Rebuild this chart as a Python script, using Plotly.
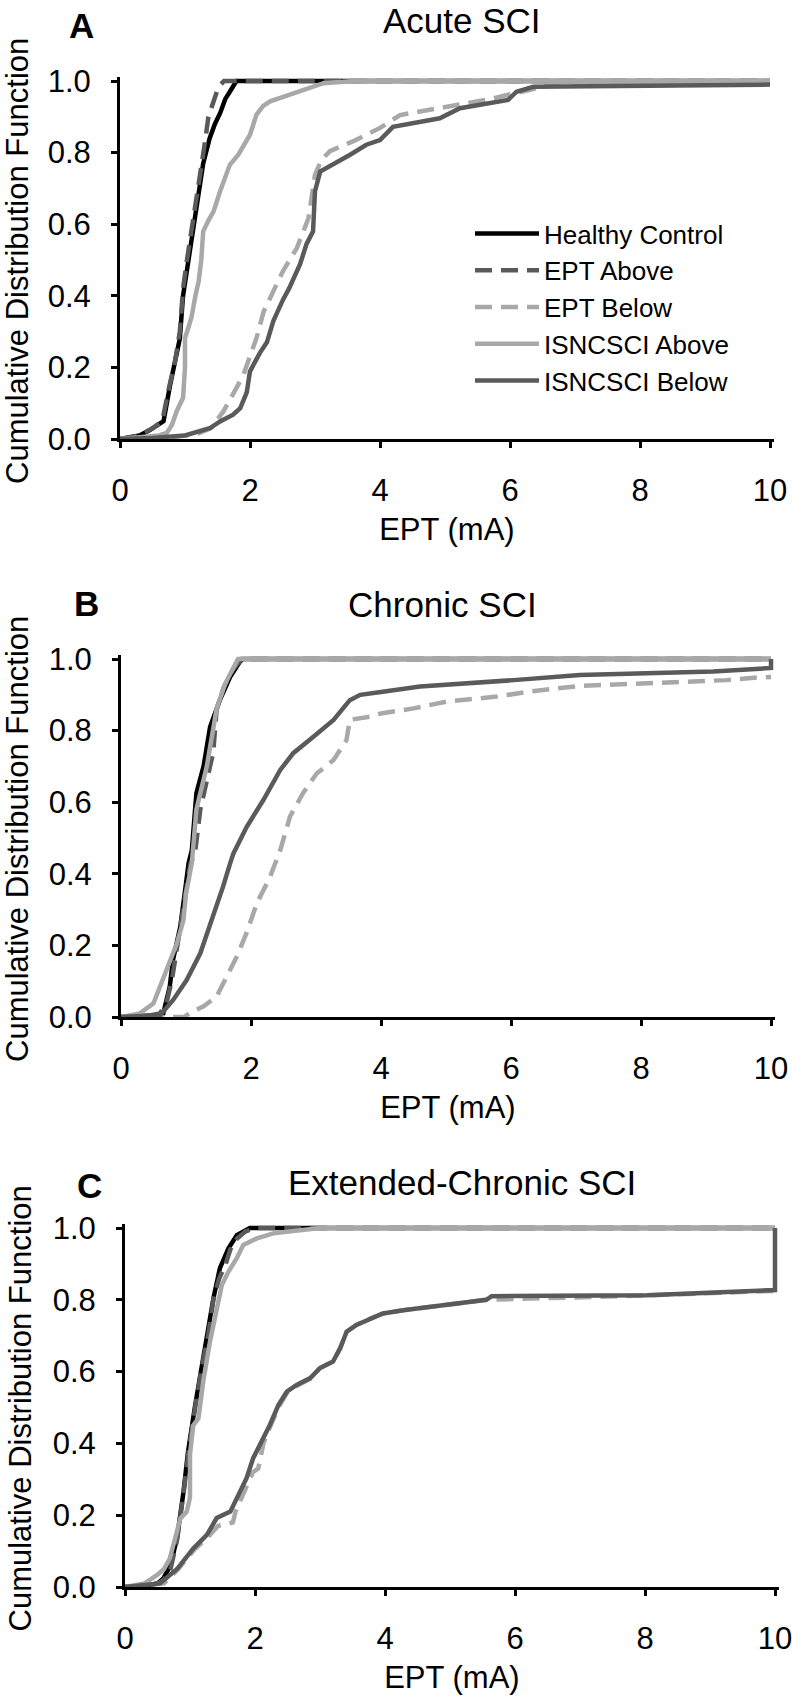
import plotly.graph_objects as go

# ---------------- data ----------------
SERIES = ["Healthy Control", "EPT Above", "EPT Below", "ISNCSCI Above", "ISNCSCI Below"]
PANEL_TITLES = ["Acute SCI", "Chronic SCI", "Extended-Chronic SCI"]
PANEL_LETTERS = ["A", "B", "C"]
X_TITLE = "EPT (mA)"
Y_TITLE = "Cumulative Distribution Function"
X_TICKS = [0, 2, 4, 6, 8, 10]
Y_TICKS = [0.0, 0.2, 0.4, 0.6, 0.8, 1.0]

# Panel A - Acute SCI
A_HC_X = [0, 0.3, 0.46, 0.6, 0.67, 0.77, 0.85, 0.92, 0.97, 1.02, 1.08, 1.13, 1.18, 1.23, 1.28, 1.38, 1.46, 1.54, 1.62, 1.69, 1.79, 10]
A_HC_Y = [0, 0.01, 0.025, 0.04, 0.05, 0.15, 0.22, 0.28, 0.40, 0.46, 0.52, 0.58, 0.64, 0.70, 0.77, 0.84, 0.88, 0.91, 0.95, 0.97, 1.0, 1.0]
A_EA_X = [0, 0.3, 0.5, 0.65, 0.75, 0.85, 0.92, 0.97, 1.03, 1.10, 1.17, 1.24, 1.30, 1.36, 1.42, 1.49, 1.55, 1.6, 10]
A_EA_Y = [0, 0.01, 0.03, 0.05, 0.14, 0.22, 0.30, 0.42, 0.50, 0.58, 0.66, 0.74, 0.82, 0.90, 0.93, 0.97, 0.99, 1.0, 1.0]
A_EB_X = [0, 0.8, 1.2, 1.4, 1.59, 1.7, 1.79, 1.9, 2.0, 2.1, 2.21, 2.41, 2.51, 2.72, 2.9, 3.0, 3.1, 3.23, 3.59, 4.0, 4.31, 5.18, 5.7, 6.3, 6.6, 10]
A_EB_Y = [0, 0.005, 0.015, 0.03, 0.077, 0.11, 0.142, 0.18, 0.235, 0.282, 0.356, 0.43, 0.47, 0.533, 0.617, 0.738, 0.78, 0.804, 0.832, 0.869, 0.905, 0.933, 0.95, 0.975, 0.988, 0.995]
A_IA_X = [0, 0.4, 0.6, 0.72, 0.8, 0.87, 0.97, 1.0, 1.0, 1.05, 1.10, 1.16, 1.21, 1.25, 1.28, 1.36, 1.44, 1.54, 1.62, 1.69, 1.82, 2.0, 2.10, 2.2, 2.31, 2.62, 2.92, 3.13, 3.6, 10]
A_IA_Y = [0, 0.005, 0.01, 0.017, 0.04, 0.077, 0.115, 0.2, 0.282, 0.31, 0.34, 0.40, 0.44, 0.50, 0.58, 0.61, 0.636, 0.692, 0.73, 0.766, 0.794, 0.85, 0.906, 0.93, 0.943, 0.962, 0.98, 0.994, 1.0, 1.0]
A_IB_X = [0, 0.5, 1.0, 1.38, 1.54, 1.74, 1.85, 1.95, 2.0, 2.15, 2.26, 2.36, 2.51, 2.6, 2.77, 2.87, 2.97, 3.0, 3.08, 3.28, 3.54, 3.79, 4.0, 4.2, 4.92, 5.23, 5.97, 6.1, 6.36, 10]
A_IB_Y = [0, 0.003, 0.01, 0.03, 0.049, 0.068, 0.086, 0.13, 0.189, 0.24, 0.27, 0.33, 0.39, 0.42, 0.488, 0.545, 0.58, 0.692, 0.747, 0.766, 0.794, 0.822, 0.835, 0.872, 0.896, 0.924, 0.947, 0.97, 0.984, 0.99]

# Panel B - Chronic SCI
B_HC_X = [0, 0.4, 0.55, 0.65, 0.75, 0.80, 0.91, 0.98, 1.04, 1.09, 1.16, 1.27, 1.37, 1.52, 1.68, 1.83, 1.87, 10]
B_HC_Y = [0, 0.002, 0.005, 0.01, 0.085, 0.16, 0.25, 0.345, 0.43, 0.466, 0.625, 0.70, 0.81, 0.885, 0.95, 0.993, 1.0, 1.0]
B_EA_X = [0, 0.4, 0.6, 0.7, 0.78, 0.85, 0.93, 1.0, 1.07, 1.14, 1.22, 1.32, 1.42, 1.47, 1.58, 1.72, 1.85, 10]
B_EA_Y = [0, 0.003, 0.01, 0.04, 0.10, 0.18, 0.27, 0.35, 0.43, 0.46, 0.58, 0.66, 0.74, 0.858, 0.92, 0.97, 1.0, 1.0]
B_EB_X = [0, 0.97, 1.05, 1.27, 1.47, 1.62, 1.78, 1.93, 2.09, 2.29, 2.45, 2.6, 2.8, 3.01, 3.27, 3.47, 3.52, 3.83, 4.0, 4.5, 5.01, 5.78, 6.29, 7.06, 8.6, 9.32, 9.78, 10]
B_EB_Y = [0, 0.0, 0.01, 0.03, 0.057, 0.11, 0.168, 0.234, 0.318, 0.39, 0.466, 0.56, 0.625, 0.68, 0.718, 0.774, 0.83, 0.839, 0.848, 0.862, 0.881, 0.895, 0.909, 0.925, 0.934, 0.941, 0.948, 0.95]
B_IA_X = [0, 0.29, 0.5, 0.6, 0.7, 0.86, 0.96, 1.0, 1.09, 1.16, 1.32, 1.47, 1.6, 1.73, 1.8, 10]
B_IA_Y = [0, 0.01, 0.038, 0.085, 0.13, 0.206, 0.27, 0.345, 0.43, 0.58, 0.70, 0.86, 0.93, 0.98, 1.0, 1.0]
B_IB_X = [0, 0.6, 0.80, 1.01, 1.22, 1.42, 1.57, 1.68, 1.73, 1.93, 2.19, 2.45, 2.65, 2.96, 3.27, 3.52, 3.68, 4.0, 4.6, 6.04, 7.06, 9.11, 10, 10]
B_IB_Y = [0, 0.005, 0.047, 0.103, 0.178, 0.28, 0.364, 0.43, 0.457, 0.53, 0.606, 0.69, 0.737, 0.783, 0.83, 0.885, 0.90, 0.908, 0.923, 0.941, 0.955, 0.965, 0.975, 1.0]

# Panel C - Extended-Chronic SCI
C_HC_X = [0, 0.3, 0.5, 0.59, 0.7, 0.80, 0.90, 0.97, 1.08, 1.18, 1.28, 1.36, 1.46, 1.59, 1.72, 1.87, 1.92, 10]
C_HC_Y = [0, 0.003, 0.01, 0.024, 0.06, 0.136, 0.265, 0.377, 0.507, 0.618, 0.711, 0.804, 0.888, 0.943, 0.98, 0.997, 1.0, 1.0]
C_EA_X = [0, 0.3, 0.5, 0.6, 0.7, 0.8, 0.9, 0.98, 1.08, 1.18, 1.28, 1.36, 1.45, 1.55, 1.62, 1.72, 1.85, 2.0, 10]
C_EA_Y = [0, 0.003, 0.01, 0.02, 0.05, 0.13, 0.26, 0.38, 0.50, 0.61, 0.70, 0.80, 0.86, 0.90, 0.94, 0.97, 0.99, 1.0, 1.0]
C_EB_X = [0, 0.6, 0.82, 1.07, 1.28, 1.43, 1.66, 1.70, 1.87, 1.97, 2.05, 2.13, 2.23, 2.36, 2.49, 2.64, 2.85, 3.0, 3.2, 3.31, 3.41, 3.56, 3.77, 3.97, 4.28, 4.95, 5.56, 8.0, 10]
C_EB_Y = [0, 0.01, 0.05, 0.105, 0.14, 0.17, 0.18, 0.21, 0.28, 0.32, 0.33, 0.40, 0.445, 0.50, 0.54, 0.56, 0.58, 0.61, 0.628, 0.665, 0.711, 0.73, 0.748, 0.762, 0.771, 0.786, 0.80, 0.812, 0.825]
C_IA_X = [0, 0.3, 0.49, 0.6, 0.69, 0.78, 0.85, 0.95, 1.0, 1.0, 1.05, 1.13, 1.21, 1.31, 1.41, 1.49, 1.59, 1.72, 1.82, 2.03, 2.28, 2.69, 3.0, 10]
C_IA_Y = [0, 0.01, 0.033, 0.05, 0.08, 0.14, 0.19, 0.21, 0.25, 0.37, 0.45, 0.47, 0.58, 0.686, 0.77, 0.841, 0.878, 0.916, 0.953, 0.971, 0.985, 0.994, 1.0, 1.0]
C_IB_X = [0, 0.54, 0.80, 1.05, 1.26, 1.41, 1.62, 1.72, 1.87, 1.97, 2.13, 2.23, 2.36, 2.49, 2.64, 2.85, 3.0, 3.2, 3.31, 3.41, 3.56, 3.77, 3.97, 4.28, 4.95, 5.0, 5.56, 5.64, 8.03, 10, 10]
C_IB_Y = [0, 0.01, 0.05, 0.107, 0.145, 0.192, 0.21, 0.247, 0.303, 0.358, 0.414, 0.452, 0.507, 0.544, 0.563, 0.582, 0.61, 0.628, 0.665, 0.711, 0.73, 0.748, 0.762, 0.771, 0.786, 0.79, 0.80, 0.81, 0.813, 0.827, 1.0]

PANELS = [
    [(A_HC_X, A_HC_Y), (A_EA_X, A_EA_Y), (A_EB_X, A_EB_Y), (A_IA_X, A_IA_Y), (A_IB_X, A_IB_Y)],
    [(B_HC_X, B_HC_Y), (B_EA_X, B_EA_Y), (B_EB_X, B_EB_Y), (B_IA_X, B_IA_Y), (B_IB_X, B_IB_Y)],
    [(C_HC_X, C_HC_Y), (C_EA_X, C_EA_Y), (C_EB_X, C_EB_Y), (C_IA_X, C_IA_Y), (C_IB_X, C_IB_Y)],
]

# ---------------- styling / layout ----------------
W, H = 792, 1697
FONT = "Liberation Sans, Arial, sans-serif"
DARK = "#5a5a5a"
LIGHT = "#a8a8a8"
STYLES = [
    dict(color="black", dash="solid"),
    dict(color=DARK, dash="17px,9px"),
    dict(color=LIGHT, dash="17px,9px"),
    dict(color=LIGHT, dash="solid"),
    dict(color=DARK, dash="solid"),
]
LINE_W = 4.5
XMAX, YMAX = 10.06, 1.012

# pixel geometry of each panel: (px of x=0, px of x=10, py of y=0, py of y=1)
GEOM = [(120, 770, 439, 81), (121, 771, 1017, 659), (125, 775, 1587, 1228)]
# title: (center x, top y) ; letter: (center x, middle y) ; y-title center x
TITLE_POS = [(462, 0), (442, 584), (462, 1162)]
LETTER_POS = [(81, 25), (86, 603), (89, 1185)]
YTITLE_X = [17, 17, 20]

fig = go.Figure()

for p, panel in enumerate(PANELS):
    xa = "x" if p == 0 else f"x{p+1}"
    ya = "y" if p == 0 else f"y{p+1}"
    for s, (xs, ys) in enumerate(panel):
        fig.add_trace(go.Scatter(
            x=xs, y=ys, mode="lines", name=SERIES[s],
            line=dict(color=STYLES[s]["color"], dash=STYLES[s]["dash"], width=LINE_W),
            xaxis=xa, yaxis=ya, showlegend=(p == 0), legendgroup=SERIES[s],
            hoverinfo="skip",
        ))

axis_common = dict(
    showline=True, linecolor="black", linewidth=3,
    ticks="outside", ticklen=6, tickwidth=3, tickcolor="black",
    showgrid=False, zeroline=False, automargin=False,
    ticklabeloverflow="allow",
    tickfont=dict(family=FONT, size=31, color="black"),
)

layout = dict(
    template="none",
    width=W, height=H,
    margin=dict(l=0, r=0, t=0, b=0, autoexpand=False),
    paper_bgcolor="white", plot_bgcolor="white",
    font=dict(family=FONT, color="black"),
    showlegend=True,
    legend=dict(
        x=470 / W, y=1 - 210 / H, xanchor="left", yanchor="top",
        font=dict(family=FONT, size=26, color="black"),
        bgcolor="rgba(0,0,0,0)", tracegroupgap=0, itemwidth=64,
    ),
)

annotations = []
for p, (x0, x10, y0, y1) in enumerate(GEOM):
    xname = "xaxis" if p == 0 else f"xaxis{p+1}"
    yname = "yaxis" if p == 0 else f"yaxis{p+1}"
    yref = "y" if p == 0 else f"y{p+1}"
    xref = "x" if p == 0 else f"x{p+1}"
    xd = [x0 / W, (x0 + (x10 - x0) * XMAX / 10) / W]
    yd = [1 - y0 / H, 1 - (y0 - (y0 - y1) * YMAX) / H]
    layout[xname] = dict(
        axis_common, domain=xd, range=[0, XMAX], tickvals=X_TICKS,
        anchor=yref, ticklabelstandoff=16,
        title=dict(text=X_TITLE, font=dict(family=FONT, size=31, color="black"), standoff=12),
    )
    layout[yname] = dict(
        axis_common, domain=yd, range=[0, YMAX], tickvals=Y_TICKS, tickformat=".1f",
        anchor=xref, ticklabelstandoff=14,
    )
    # y-axis title (rotated), centred on the axis
    annotations.append(dict(
        text=Y_TITLE, textangle=-90, x=YTITLE_X[p] / W, y=1 - ((y0 + y1) / 2 + 1) / H,
        xref="paper", yref="paper", xanchor="center", yanchor="middle", showarrow=False,
        borderpad=0, font=dict(family=FONT, size=31, color="black"),
    ))
    tx, ty = TITLE_POS[p]
    annotations.append(dict(
        text=PANEL_TITLES[p], x=tx / W, y=1 - ty / H, xref="paper", yref="paper",
        xanchor="center", yanchor="top", showarrow=False, borderpad=0,
        font=dict(family=FONT, size=35, color="black"),
    ))
    lx, ly = LETTER_POS[p]
    annotations.append(dict(
        text="<b>" + PANEL_LETTERS[p] + "</b>", x=lx / W, y=1 - ly / H, xref="paper", yref="paper",
        xanchor="center", yanchor="middle", showarrow=False,
        font=dict(family=FONT, size=35, color="black"),
    ))

layout["annotations"] = annotations
fig.update_layout(**layout)
fig.write_html(
    "out.html",
    config={"displayModeBar": False},
    post_script="document.body.style.margin='0';document.body.style.padding='0';",
)
